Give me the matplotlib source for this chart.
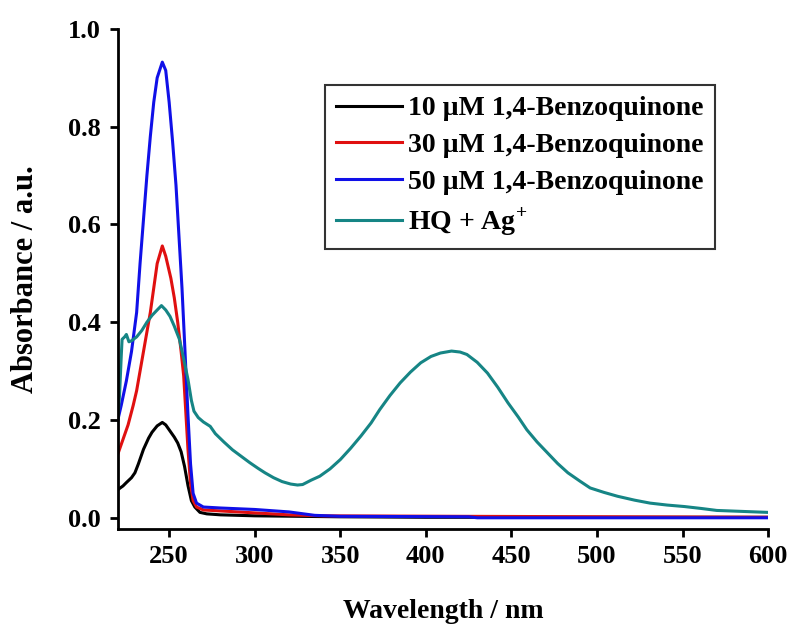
import matplotlib
matplotlib.use("Agg")
import matplotlib.pyplot as plt

plt.rcParams['font.family'] = ['Liberation Serif', 'DejaVu Serif']
plt.rcParams['font.weight'] = 'bold'
plt.rcParams['mathtext.fontset'] = 'custom'
plt.rcParams['mathtext.rm'] = 'Liberation Serif:bold'
plt.rcParams['mathtext.bf'] = 'Liberation Serif:bold'

# 10 uM 1,4-benzoquinone
wl_10 = [220, 221, 223, 225, 228, 230, 232, 235, 238, 240, 243, 246, 248, 250,
         253, 255, 257, 259, 261, 263, 265, 268, 272, 280, 300, 350, 400, 500, 600]
abs_10 = [0.057, 0.060, 0.065, 0.072, 0.082, 0.092, 0.11, 0.14, 0.163, 0.175, 0.188,
          0.195, 0.19, 0.18, 0.165, 0.153, 0.135, 0.105, 0.066, 0.035, 0.022, 0.011,
          0.008, 0.006, 0.004, 0.002, 0.001, 0.001, 0.001]

# 30 uM 1,4-benzoquinone
wl_30 = [220, 223, 226, 229, 231, 233, 235, 237, 239, 241, 243, 246, 248, 251, 253,
         255, 257, 258.5, 260, 261, 262.5, 264, 266, 270, 280, 290, 300, 320, 340, 420, 600]
abs_30 = [0.13, 0.16, 0.19, 0.23, 0.26, 0.30, 0.34, 0.38, 0.42, 0.47, 0.52, 0.556,
          0.535, 0.49, 0.45, 0.40, 0.34, 0.29, 0.20, 0.14, 0.07, 0.035, 0.022, 0.016,
          0.014, 0.012, 0.010, 0.006, 0.004, 0.003, 0.001]

# 50 uM 1,4-benzoquinone
wl_50 = [220, 222, 225, 228, 231, 233, 235, 237, 239, 241, 243, 246, 248, 250, 252,
         254, 256, 257.5, 259, 261, 262.5, 264, 266, 270, 280, 300, 320, 335, 350, 425,
         430, 600]
abs_50 = [0.20, 0.23, 0.28, 0.34, 0.42, 0.52, 0.61, 0.70, 0.78, 0.85, 0.90, 0.932,
          0.915, 0.85, 0.77, 0.68, 0.56, 0.47, 0.36, 0.21, 0.11, 0.05, 0.03, 0.022,
          0.020, 0.017, 0.012, 0.005, 0.003, 0.002, 0.0, 0.0]

# HQ + Ag+
wl_hq = [220, 221, 222, 222.5, 224, 225, 226.5, 228, 231, 234, 237, 240, 243, 245.5,
         248, 250.5, 253, 256, 258.5, 261, 263, 264.5, 267, 270, 274, 277, 282, 287,
         292, 297, 302, 306, 311, 316, 321, 325, 328, 333, 338, 344, 350, 356, 362,
         368, 373, 379, 385, 391, 397, 403, 408.5, 415, 420, 424, 430, 436, 442, 448,
         454, 459, 465, 471, 477, 483, 490, 496, 504, 512, 522, 531, 541, 551, 561,
         570, 585, 600]
abs_hq = [0.20, 0.25, 0.33, 0.365, 0.37, 0.375, 0.36, 0.362, 0.37, 0.383, 0.40, 0.414,
          0.425, 0.434, 0.425, 0.412, 0.392, 0.365, 0.325, 0.283, 0.24, 0.218, 0.205,
          0.196, 0.187, 0.172, 0.155, 0.139, 0.126, 0.113, 0.101, 0.092, 0.082, 0.074,
          0.069, 0.067, 0.068, 0.077, 0.085, 0.100, 0.119, 0.142, 0.167, 0.194, 0.221,
          0.25, 0.276, 0.298, 0.317, 0.330, 0.337, 0.341, 0.339, 0.334, 0.318, 0.296,
          0.267, 0.235, 0.206, 0.180, 0.155, 0.133, 0.111, 0.092, 0.075, 0.061, 0.052,
          0.044, 0.036, 0.030, 0.026, 0.023, 0.019, 0.015, 0.013, 0.011]

labels = ['10 \u00b5M 1,4-Benzoquinone', '30 \u00b5M 1,4-Benzoquinone',
          '50 \u00b5M 1,4-Benzoquinone', r'HQ + Ag$^{+}$']
colors = ['#000000', '#e01010', '#1010e8', '#168585']

fig = plt.figure(figsize=(7.96, 6.28), dpi=100)
ax = fig.add_axes([0.148, 0.158, 0.817, 0.796])

series = [(wl_10, abs_10), (wl_30, abs_30), (wl_50, abs_50), (wl_hq, abs_hq)]
for (x, y), lab, c in zip(series, labels, colors):
    ax.plot(x, y, color=c, lw=2.2, label=lab)

ax.set_xlim(220, 600)
ax.set_ylim(-0.0225, 1.0)
ax.set_xticks(range(250, 601, 50))
ax.set_yticks([0.0, 0.2, 0.4, 0.6, 0.8, 1.0])
ax.set_yticklabels(['0.0', '0.2', '0.4', '0.6', '0.8', '1.0'])

ax.spines['top'].set_visible(False)
ax.spines['right'].set_visible(False)
for s in ('left', 'bottom'):
    ax.spines[s].set_linewidth(2)
ax.tick_params(direction='out', length=6, width=2, labelsize=19, pad=6)

ax.set_xlabel('Wavelength / nm', fontsize=20, fontweight='bold', labelpad=22)
ax.set_ylabel('Absorbance / a.u.', fontsize=22, fontweight='bold', labelpad=20)

leg = ax.legend(loc='upper left', bbox_to_anchor=(0.318, 0.888), fontsize=20,
                frameon=True, fancybox=False, edgecolor='black',
                handlelength=2.4, handletextpad=0.2, labelspacing=0.4,
                borderpad=0.4, borderaxespad=0)
leg.get_frame().set_linewidth(1.5)

fig.savefig('out.png', dpi=100)
